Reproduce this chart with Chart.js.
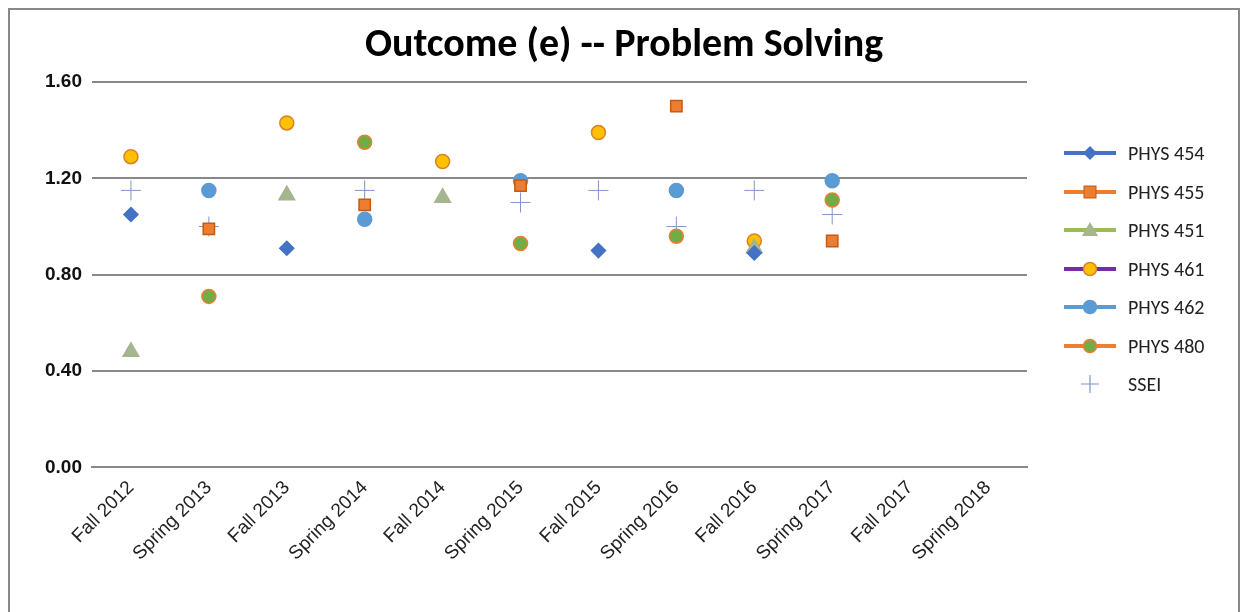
<!DOCTYPE html>
<html>
<head>
<meta charset="utf-8">
<script src="https://cdn.jsdelivr.net/npm/chart.js@4"></script>
<style>
  body { margin: 0; background: #fff; font-family: Calibri, Carlito, "Open Sans", sans-serif; }
  #wrap { position: absolute; left: 8px; top: 8px; width: 1232px; height: 610px; border: 2px solid #888; box-sizing: border-box; }
  #chartBox { position: absolute; left: 0; top: 0; width: 1228px; height: 608px; }
  #title { position: absolute; left: 0; width: 1228px; top: 8px; text-align: center; font-size: 40px; font-weight: bold; color: #000; }
  #legend { position: absolute; left: 1050px; top: 124px; font-size: 20px; color: #222; }
  .row { height: 38.5px; display: flex; align-items: center; }
  .row svg { margin-right: 8px; }
</style>
</head>
<body>
<div id="wrap">
  <div id="chartBox"><canvas id="myChart"></canvas></div>
  <div id="title">Outcome (e) -- Problem Solving</div>
  <div id="legend"></div>
</div>
<script>
  let categories = ["Fall 2012", "Spring 2013", "Fall 2013", "Spring 2014", "Fall 2014", "Spring 2015",
    "Fall 2015", "Spring 2016", "Fall 2016", "Spring 2017", "Fall 2017", "Spring 2018"];
  let seriesNames = ["PHYS 454", "PHYS 455", "PHYS 451", "PHYS 461", "PHYS 462", "PHYS 480", "SSEI"];
  let phys454 = [1.05, null, 0.91, null, null, null, 0.90, null, 0.89, null, null, null];
  let phys455 = [null, 0.99, null, 1.09, null, 1.17, null, 1.50, null, 0.94, null, null];
  let phys451 = [0.48, null, 1.13, null, 1.12, null, null, null, 0.91, null, null, null];
  let phys461 = [1.29, null, 1.43, null, 1.27, null, 1.39, null, 0.94, null, null, null];
  let phys462 = [null, 1.15, null, 1.03, null, 1.19, null, 1.15, null, 1.19, null, null];
  let phys480 = [null, 0.71, null, 1.35, null, 0.93, null, 0.96, null, 1.11, null, null];
  let ssei = [1.15, 1.00, null, 1.15, null, 1.10, 1.15, 1.00, 1.15, 1.05, null, null];
  let yTicks = [0, 0.4, 0.8, 1.2, 1.6];

  let styles = [
    { fill: "#4472C4", border: "#4472C4", line: "#4472C4", shape: "rectRot", r: 7 },
    { fill: "#ED7D31", border: "#C55A11", line: "#ED7D31", shape: "rect", r: 8 },
    { fill: "#A5B58E", border: "#A5B58E", line: "#9BBB59", shape: "triangle", r: 9 },
    { fill: "#FFC000", border: "#D9822B", line: "#7030A0", shape: "circle", r: 7 },
    { fill: "#5B9BD5", border: "#5B9BD5", line: "#5B9BD5", shape: "circle", r: 7 },
    { fill: "#70AD47", border: "#ED7D31", line: "#ED7D31", shape: "circle", r: 7 },
    { fill: "#7F96C8", border: "#7F96C8", line: null, shape: "cross", r: 10 },
  ];
  let allData = [phys454, phys455, phys451, phys461, phys462, phys480, ssei];

  let datasets = allData.map(function (d, i) {
    return {
      label: seriesNames[i], data: d, showLine: false,
      pointStyle: styles[i].shape, pointRadius: styles[i].r,
      pointBackgroundColor: styles[i].fill, pointBorderColor: styles[i].border,
      pointBorderWidth: i == 6 ? 1 : 1.5,
    };
  });

  new Chart(document.getElementById("myChart"), {
    type: "line",
    data: { labels: categories, datasets: datasets },
    options: {
      responsive: true, maintainAspectRatio: false, animation: false,
      layout: { padding: { left: 25, right: 211, top: 72, bottom: 50 } },
      plugins: {
        legend: { display: false },
        tooltip: { enabled: false },
      },
      scales: {
        x: {
          offset: true,
          grid: { display: false, drawTicks: true, tickLength: 6, color: "#888" },
          border: { color: "#888", width: 2 },
          ticks: { maxRotation: 45, minRotation: 45, color: "#222", font: { size: 19 } },
        },
        y: {
          min: 0, max: 1.6,
          afterBuildTicks: function (axis) { axis.ticks = yTicks.map(v => ({ value: v })); },
          grid: { color: "#888", lineWidth: 2, drawTicks: false },
          border: { display: false },
          ticks: { color: "#111", padding: 10, font: { size: 19, weight: "bold" },
            callback: v => v.toFixed(2) },
        },
      },
    },
  });

  let legendHtml = "";
  styles.forEach(function (s, i) {
    let svg = '<svg width="60" height="24">';
    if (s.line) svg += '<line x1="4" y1="12" x2="56" y2="12" stroke="' + s.line + '" stroke-width="4"/>';
    let m = "";
    if (s.shape == "rectRot") m = '<polygon points="30,5 37,12 30,19 23,12" fill="' + s.fill + '"/>';
    if (s.shape == "rect") m = '<rect x="24" y="6" width="12" height="12" fill="' + s.fill + '" stroke="' + s.border + '"/>';
    if (s.shape == "triangle") m = '<polygon points="30,4 38,18 22,18" fill="' + s.fill + '"/>';
    if (s.shape == "circle") m = '<circle cx="30" cy="12" r="6.5" fill="' + s.fill + '" stroke="' + s.border + '" stroke-width="1.5"/>';
    if (s.shape == "cross") m = '<path d="M21,12H39M30,3V21" stroke="' + s.fill + '" stroke-width="1.2"/>';
    svg += m + "</svg>";
    legendHtml += '<div class="row">' + svg + "<span>" + seriesNames[i] + "</span></div>";
  });
  document.getElementById("legend").innerHTML = legendHtml;
</script>
</body>
</html>
